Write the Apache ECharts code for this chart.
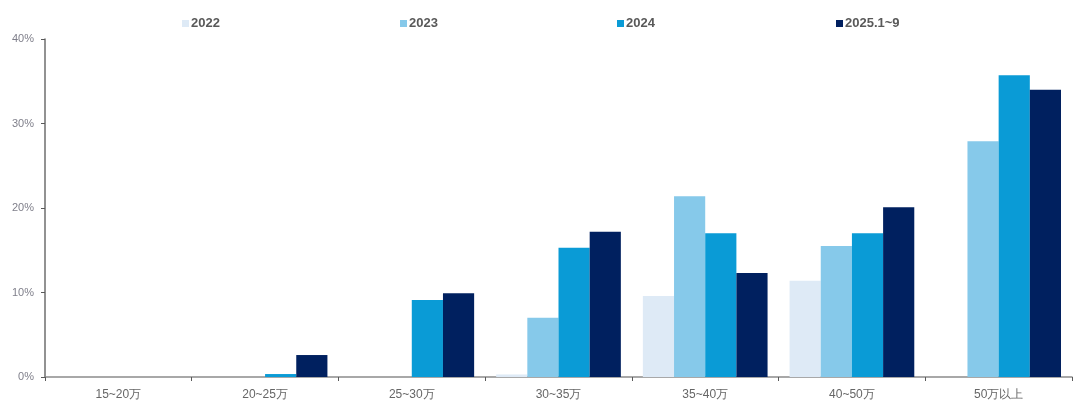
<!DOCTYPE html>
<html>
<head>
<meta charset="utf-8">
<script src="https://cdn.jsdelivr.net/npm/echarts@6/dist/echarts.min.js"></script>
<style>html,body{margin:0;padding:0;background:#fff}#c{width:1080px;height:414px}</style>
</head>
<body>
<div id="c"></div>
<script>
var categories = ['15~20万', '20~25万', '25~30万', '30~35万', '35~40万', '40~50万', '50万以上'];
var seriesNames = ['2022', '2023', '2024', '2025.1~9'];
var v2022 = [0, 0, 0, 0.3, 9.6, 11.4, 0];
var v2023 = [0, 0, 0, 7.0, 21.4, 15.5, 27.9];
var v2024 = [0, 0.35, 9.1, 15.3, 17.0, 17.0, 35.7];
var v2025 = [0, 2.6, 9.9, 17.2, 12.3, 20.1, 34.0];
var yTicks = [0, 10, 20, 30, 40];

var colors = ['#DEEAF6', '#86C9EA', '#0A9BD6', '#00205F'];
var allValues = [v2022, v2023, v2024, v2025];
var legendLeft = [177, 395, 612, 831];

var chart = echarts.init(document.getElementById('c'));
var legends = seriesNames.map(function (n, i) {
  return {
    data: [n], left: legendLeft[i], top: 12, itemWidth: 7, itemHeight: 7,
    icon: 'rect', itemGap: 0,
    textStyle: {color: '#595959', fontSize: 13, fontWeight: 'bold', fontFamily: 'Liberation Sans', padding: [0, 0, 0, -3]}
  };
});
chart.setOption({
  animation: false,
  color: colors,
  legend: legends,
  grid: {left: 45, right: 8, top: 39, bottom: 37},
  xAxis: {
    type: 'category', data: categories,
    axisLine: {lineStyle: {color: '#8c8c8c', width: 1.5}},
    axisTick: {show: true, length: 4, lineStyle: {color: '#595959'}},
    axisLabel: {color: '#666666', fontSize: 12, margin: 12, fontFamily: 'Liberation Sans'}
  },
  yAxis: {
    type: 'value', min: yTicks[0], max: yTicks[yTicks.length - 1], interval: 10,
    axisLine: {show: true, lineStyle: {color: '#6e6e6e', width: 1.5}},
    axisTick: {show: true, length: 4, lineStyle: {color: '#595959'}},
    splitLine: {show: false},
    axisLabel: {color: '#7f7f8a', fontSize: 11, margin: 11, fontFamily: 'Liberation Sans', formatter: '{value}%'}
  },
  series: seriesNames.map(function (n, i) {
    return {
      name: n, type: 'bar', data: allValues[i], barGap: '0%', barCategoryGap: '15%',
      itemStyle: {color: colors[i]}
    };
  })
});
</script>
</body>
</html>
